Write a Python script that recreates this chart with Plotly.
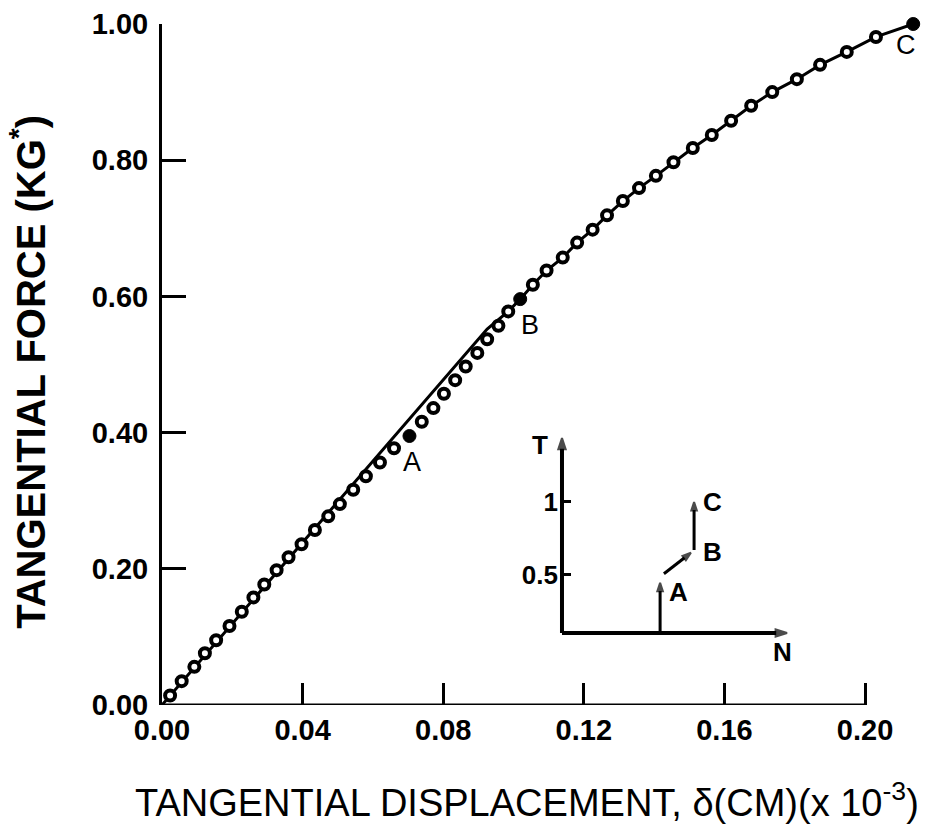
import plotly.graph_objects as go

# ---------------- data ----------------
# open-circle measurements: tangential displacement (x 10^-3 cm) and force (kg*)
disp_open = [0.0023, 0.0056, 0.0092, 0.0122, 0.0154, 0.0192, 0.0227, 0.0260, 0.0291, 0.0326,
             0.0360, 0.0397, 0.0435, 0.0473, 0.0506, 0.0544, 0.0580, 0.0620, 0.0660,
             0.0739, 0.0772, 0.0802, 0.0834, 0.0864, 0.0897, 0.0925, 0.0957, 0.0985,
             0.1055, 0.1094, 0.1140, 0.1181, 0.1225, 0.1266, 0.1311, 0.1357, 0.1405,
             0.1455, 0.1510, 0.1564, 0.1619, 0.1676, 0.1736, 0.1806, 0.1872, 0.1948, 0.2031]
force_open = [0.014, 0.035, 0.056, 0.076, 0.095, 0.116, 0.137, 0.158, 0.177, 0.198,
              0.217, 0.236, 0.257, 0.277, 0.295, 0.316, 0.336, 0.356, 0.377,
              0.416, 0.436, 0.457, 0.477, 0.497, 0.517, 0.537, 0.557, 0.578,
              0.617, 0.638, 0.657, 0.679, 0.698, 0.719, 0.740, 0.759, 0.777,
              0.797, 0.818, 0.837, 0.858, 0.880, 0.900, 0.919, 0.940, 0.959, 0.981]

# filled key points A, B, C
key_labels = ["A", "B", "C"]
disp_key = [0.0704, 0.1019, 0.2137]
force_key = [0.395, 0.596, 1.000]

# solid fitted curve
curve_disp = [0.0, 0.0925, 0.0985, 0.1019, 0.1055, 0.1094,
              0.1140, 0.1181, 0.1225, 0.1266, 0.1311, 0.1357, 0.1405, 0.1455, 0.1510,
              0.1564, 0.1619, 0.1676, 0.1736, 0.1806, 0.1872, 0.1948, 0.2031, 0.2137]
curve_force = [0.0, 0.552, 0.578, 0.596, 0.617, 0.638,
               0.657, 0.679, 0.698, 0.719, 0.740, 0.759, 0.777, 0.797, 0.818,
               0.837, 0.858, 0.880, 0.900, 0.919, 0.940, 0.959, 0.981, 1.000]

x_ticks = [0.00, 0.04, 0.08, 0.12, 0.16, 0.20]
y_ticks = [0.00, 0.20, 0.40, 0.60, 0.80, 1.00]

# inset sketch (T vs N)
inset_T_ticks = [0.5, 1.0]
inset_T_axis_N = [0.0, 0.0]
inset_T_axis_T = [0.1, 1.44]
inset_N_axis_N = [0.0, 1.0]
inset_N_axis_T = [0.1, 0.1]
inset_seg_N = [[0.436, 0.436], [0.453, 0.573], [0.587, 0.587]]
inset_seg_T = [[0.100, 0.445], [0.507, 0.651], [0.671, 1.000]]
inset_labels = ["A", "B", "C"]
inset_label_N = [0.516, 0.671, 0.671]
inset_label_T = [0.384, 0.658, 1.000]

FONT = "Liberation Sans, Arial, Helvetica, sans-serif"
BLACK = "black"

fig = go.Figure()

fig.add_trace(go.Scatter(x=curve_disp, y=curve_force, mode="lines",
                         line=dict(color=BLACK, width=3), hoverinfo="skip",
                         showlegend=False))
fig.add_trace(go.Scatter(x=disp_open, y=force_open, mode="markers",
                         marker=dict(symbol="circle", size=10, color="white",
                                     line=dict(color=BLACK, width=4)),
                         cliponaxis=False, showlegend=False))
fig.add_trace(go.Scatter(x=disp_key, y=force_key, mode="markers",
                         marker=dict(symbol="circle", size=13, color=BLACK,
                                     line=dict(color=BLACK, width=1)),
                         cliponaxis=False, showlegend=False))

# inset: axes with arrow ends
for nx, ty in [(inset_T_axis_N, inset_T_axis_T), (inset_N_axis_N, inset_N_axis_T)]:
    fig.add_trace(go.Scatter(x=nx, y=ty, xaxis="x2", yaxis="y2", mode="lines+markers",
                             line=dict(color=BLACK, width=4),
                             marker=dict(symbol="arrow", size=[0, 12], color=BLACK,
                                         angleref="previous",
                                         line=dict(color=BLACK, width=2)),
                             cliponaxis=False, hoverinfo="skip", showlegend=False))
# inset: loading path segments
for nx, ty in zip(inset_seg_N, inset_seg_T):
    fig.add_trace(go.Scatter(x=nx, y=ty, xaxis="x2", yaxis="y2", mode="lines+markers",
                             line=dict(color=BLACK, width=3),
                             marker=dict(symbol="arrow", size=[0, 9], color=BLACK,
                                         angleref="previous",
                                         line=dict(color=BLACK, width=2)),
                             cliponaxis=False, hoverinfo="skip", showlegend=False))

tickfont = dict(family=FONT, size=29, color=BLACK, weight="bold")
insetfont = dict(family=FONT, size=26, color=BLACK, weight="bold")

fig.update_layout(
    width=925, height=836,
    margin=dict(l=162, r=3, t=24, b=131),
    paper_bgcolor="white", plot_bgcolor="white",
    font=dict(family=FONT, color=BLACK),
    xaxis=dict(range=[0, 0.2162], showline=False, showgrid=False, zeroline=False,
               ticks="inside", ticklen=22, tickwidth=3, tickcolor=BLACK,
               tickvals=x_ticks, ticktext=[f"{v:.2f}" for v in x_ticks],
               tickfont=tickfont, ticklabelstandoff=5),
    yaxis=dict(range=[0, 1.0], showline=True, linewidth=3, linecolor=BLACK,
               showgrid=False, zeroline=False,
               ticks="inside", ticklen=24, tickwidth=3, tickcolor=BLACK,
               tickvals=y_ticks, ticktext=[f"{v:.2f}" for v in y_ticks],
               tickfont=tickfont, ticklabelstandoff=5),
    xaxis2=dict(domain=[0.5115, 0.8372], anchor="y2", range=[-0.05, 1.05],
                showline=False, showgrid=False, zeroline=False,
                showticklabels=False, ticks=""),
    yaxis2=dict(domain=[0.0950, 0.4050], anchor="free", position=0.5263,
                range=[0.05, 1.5],
                showline=False, showgrid=False, zeroline=False,
                ticks="inside", ticklen=8, tickwidth=3, tickcolor=BLACK,
                tickvals=inset_T_ticks, ticktext=["0.5", "1"],
                tickfont=insetfont, ticklabelstandoff=4),
)

# main x-axis line, ends at the last tick
fig.add_shape(type="line", xref="x", yref="y", x0=0, y0=0, x1=x_ticks[-1], y1=0,
              line=dict(color=BLACK, width=3))

ann = []
# axis titles
ann.append(dict(text="TANGENTIAL FORCE (KG<sup>*</sup>)", xref="paper", yref="paper",
                x=-0.1757, y=0.49, textangle=-90, showarrow=False,
                xanchor="center", yanchor="middle",
                font=dict(family=FONT, size=40, color=BLACK, weight="bold")))
ann.append(dict(text="TANGENTIAL DISPLACEMENT, δ(CM)(x 10<sup>-3</sup>)",
                xref="paper", yref="paper", x=0.480, y=-0.1395, showarrow=False,
                xanchor="center", yanchor="middle",
                font=dict(family=FONT, size=38, color=BLACK)))
# key point labels in main chart
key_label_pos = [(0.0711, 0.357), (0.1047, 0.558), (0.2117, 0.969)]
for lab, (lx, ly) in zip(key_labels, key_label_pos):
    ann.append(dict(text=lab, xref="x", yref="y", x=lx, y=ly, showarrow=False,
                    xanchor="center", yanchor="middle",
                    font=dict(family=FONT, size=27, color=BLACK)))

for lab, ln, lt in zip(inset_labels, inset_label_N, inset_label_T):
    ann.append(dict(text=lab, xref="x2", yref="y2", x=ln, y=lt, showarrow=False,
                    xanchor="center", yanchor="middle", font=insetfont))
# inset axis names (paper coords, outside the inset ranges)
ann.append(dict(text="T", xref="paper", yref="paper", x=0.4974, y=0.3818,
                showarrow=False, xanchor="center", yanchor="middle", font=insetfont))
ann.append(dict(text="N", xref="paper", yref="paper", x=0.8158, y=0.0778,
                showarrow=False, xanchor="center", yanchor="middle", font=insetfont))

fig.update_layout(annotations=ann)

fig.write_html("out.html", config={"displayModeBar": False},
               post_script="document.body.style.margin='0';")
